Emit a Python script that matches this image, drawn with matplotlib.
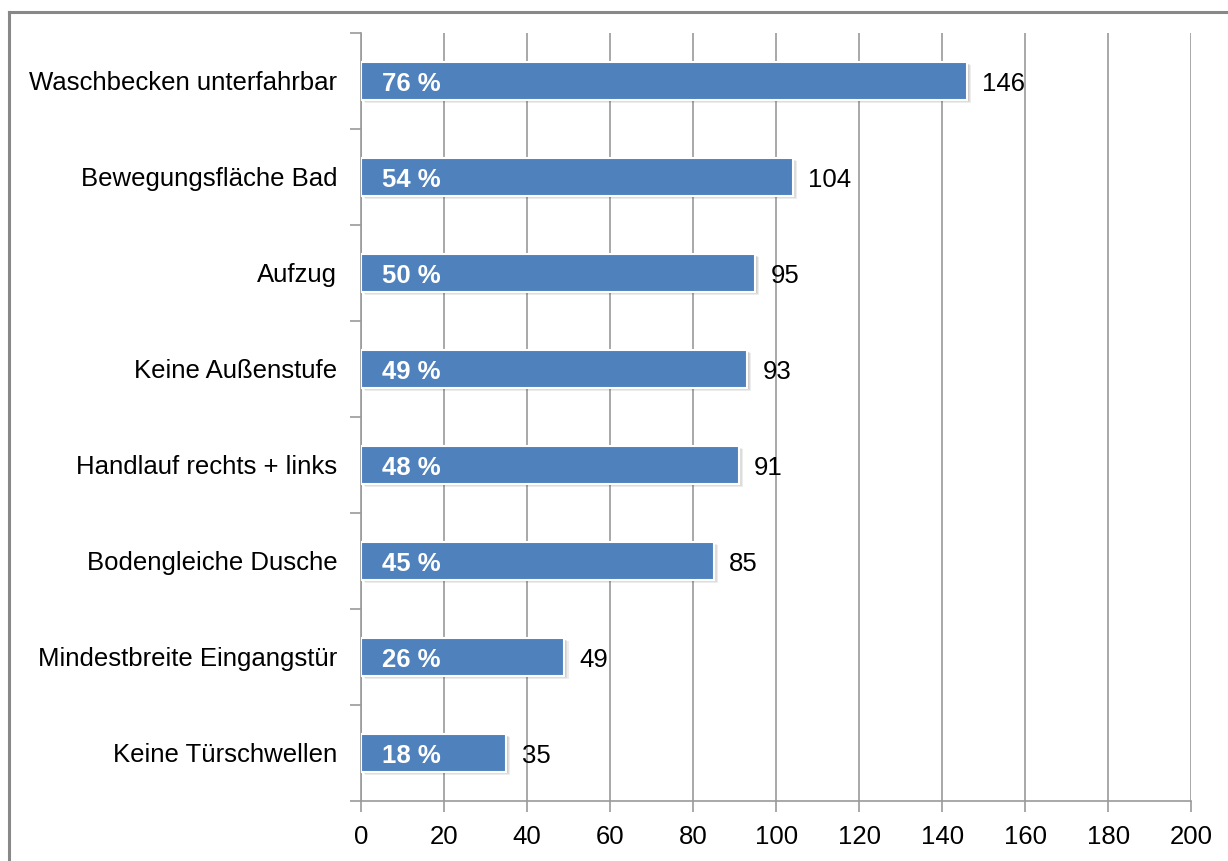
import matplotlib.pyplot as plt
import numpy as np
from matplotlib.lines import Line2D

plt.rcParams['font.family'] = ['Liberation Sans', 'DejaVu Sans']

categories = ["Waschbecken unterfahrbar", "Bewegungsfläche Bad", "Aufzug",
              "Keine Außenstufe", "Handlauf rechts + links", "Bodengleiche Dusche",
              "Mindestbreite Eingangstür", "Keine Türschwellen"]
counts = [146, 104, 95, 93, 91, 85, 49, 35]
percents = [76, 54, 50, 49, 48, 45, 26, 18]
xticks = list(range(0, 201, 20))

fig = plt.figure(figsize=(12.28, 8.61), dpi=100)
ax = fig.add_axes([0.294, 0.0697, 0.676, 0.892])

y = np.arange(len(categories))
h = 0.39

# soft drop shadow under each bar
for k in range(3):
    ax.barh(y + 0.014 + k * 0.009, counts, height=h, left=0.4 + k * 0.3,
            color='#000000', alpha=0.07, zorder=2)
ax.barh(y, counts, height=h, color='#4F81BD', edgecolor='white',
        linewidth=1.5, zorder=3)

for yi, c, p in zip(y, counts, percents):
    ax.annotate(f"{p} %", (0, yi), xytext=(15, -2), textcoords='offset points',
                ha='left', va='center', color='white', fontsize=18.5,
                fontweight='bold', zorder=4)
    ax.annotate(str(c), (c, yi), xytext=(11, -2), textcoords='offset points',
                ha='left', va='center', color='black', fontsize=18.5, zorder=4)

ax.set_xlim(0, 200)
ax.set_ylim(len(categories) - 0.5, -0.5)
ax.set_xticks(xticks)
ax.set_yticks(y)
ax.set_yticklabels(categories)
ax.set_yticks(np.arange(-0.5, len(categories), 1), minor=True)

ax.grid(axis='x', color='#9a9a9a', linewidth=1.2, zorder=0)
ax.set_axisbelow(True)
for s in ['top', 'right']:
    ax.spines[s].set_visible(False)
for s in ['left', 'bottom']:
    ax.spines[s].set_color('#9a9a9a')
    ax.spines[s].set_linewidth(1.2)

ax.tick_params(axis='x', length=8, color='#9a9a9a', width=1.2,
               labelsize=18.5, pad=9)
ax.tick_params(axis='y', which='major', length=0, labelsize=18.5, pad=17)
ax.tick_params(axis='y', which='minor', length=8, color='#9a9a9a', width=1.2)

# outer frame, left and top edges
fig.add_artist(Line2D([0.0075, 0.0075], [0, 0.986], transform=fig.transFigure,
                      color='#888888', linewidth=2.2))
fig.add_artist(Line2D([0.0075, 1.0], [0.986, 0.986], transform=fig.transFigure,
                      color='#888888', linewidth=2.2))

fig.savefig('out.png', dpi=100)
